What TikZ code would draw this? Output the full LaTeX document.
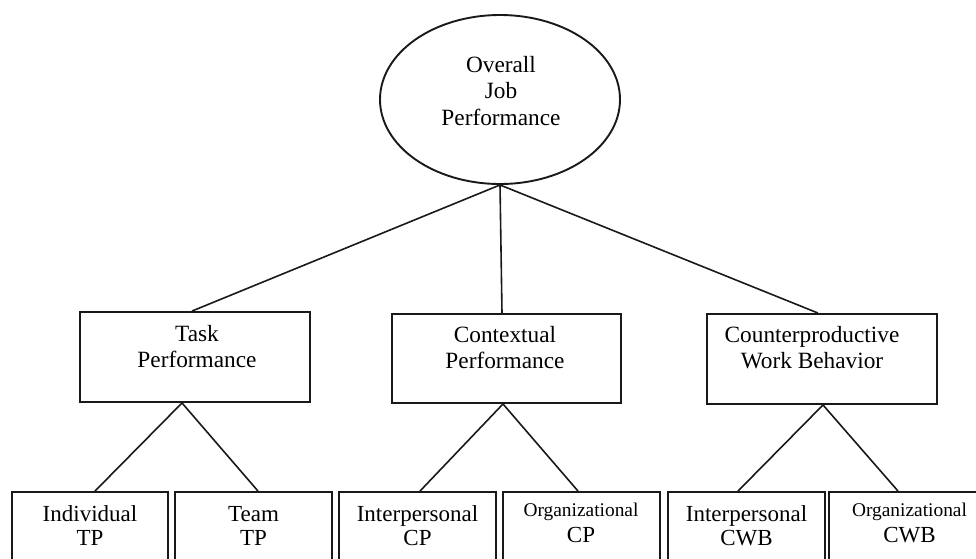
\documentclass[tikz,border=0pt]{standalone}
\usepackage{fontspec}
\setmainfont{Liberation Serif}
\usetikzlibrary{shapes.geometric}
\begin{document}
\begin{tikzpicture}[x=1pt,y=-1pt,
  boxn/.style={draw=black!90,line width=1.9pt,rectangle,inner sep=0pt},
  topbox/.style={boxn,minimum width=229pt,minimum height=89pt},
  botbox/.style={boxn,minimum width=157pt,minimum height=100pt},
  conn/.style={draw=black!90,line width=1.6pt},
  bigtxt/.style={inner sep=0pt,align=center,anchor=base,font=\fontsize{23.3}{26.5}\selectfont},
  lowtxt/.style={inner sep=0pt,align=center,anchor=base,font=\fontsize{23}{24}\selectfont},
  smalltxt/.style={inner sep=0pt,anchor=base,font=\fontsize{19.4}{20}\selectfont},
  midtxt/.style={inner sep=0pt,anchor=base,font=\fontsize{23}{24}\selectfont}]
\useasboundingbox (0,0) rectangle (976,558);
\clip (0,0) rectangle (976,558);
% root
\node[draw=black!90,line width=1.9pt,ellipse,minimum width=240pt,minimum height=169pt,inner sep=0pt] (ell) at (500,99.5) {};
\node[bigtxt] (ellt) at (501,125) {Overall\\Job\\Performance};
% second level
\node[topbox,minimum width=230pt,minimum height=90pt] (task) at (195,357) {};
\node[bigtxt] (taskt) at (197,367.5) {Task\\Performance};
\node[topbox] (ctx) at (506.5,358.5) {};
\node[bigtxt] (ctxt) at (505,368.5) {Contextual\\Performance};
\node[topbox,minimum width=230pt,minimum height=90pt] (cwb) at (822,359) {};
\node[bigtxt] (cwbt) at (812,368.5) {Counterproductive\\Work Behavior};
% third level
\node[botbox,minimum width=156pt] (b1) at (90,542) {};
\node[lowtxt] (b1t) at (90,545) {Individual\\TP};
\node[botbox] (b2) at (253.5,542) {};
\node[lowtxt] (b2t) at (253.5,545) {Team\\TP};
\node[botbox] (b3) at (417.5,542) {};
\node[lowtxt] (b3t) at (417.5,545) {Interpersonal\\CP};
\node[botbox] (b4) at (581.5,542) {};
\node[smalltxt] (b4a) at (581,516) {Organizational};
\node[midtxt] (b4b) at (581,542) {CP};
\node[botbox] (b5) at (746.5,542) {};
\node[lowtxt] (b5t) at (746.5,545) {Interpersonal\\CWB};
\node[botbox] (b6) at (907.5,542) {};
\node[smalltxt] (b6a) at (909.5,516) {Organizational};
\node[midtxt] (b6b) at (909.5,542) {CWB};
% connectors
\draw[conn] (ell.south) -- ([xshift=-3pt]task.north);
\draw[conn] (ell.south) -- ([xshift=-4.5pt]ctx.north);
\draw[conn] (ell.south) -- ([xshift=-4pt]cwb.north);
\draw[conn] ([xshift=-13pt]task.south) -- ([xshift=5pt]b1.north);
\draw[conn] ([xshift=-13pt]task.south) -- ([xshift=4.5pt]b2.north);
\draw[conn] ([xshift=-3.5pt]ctx.south) -- ([xshift=2.5pt]b3.north);
\draw[conn] ([xshift=-3.5pt]ctx.south) -- ([xshift=-3.5pt]b4.north);
\draw[conn] ([xshift=1pt]cwb.south) -- ([xshift=-8.5pt]b5.north);
\draw[conn] ([xshift=1pt]cwb.south) -- ([xshift=-9.5pt]b6.north);
\end{tikzpicture}
\end{document}
